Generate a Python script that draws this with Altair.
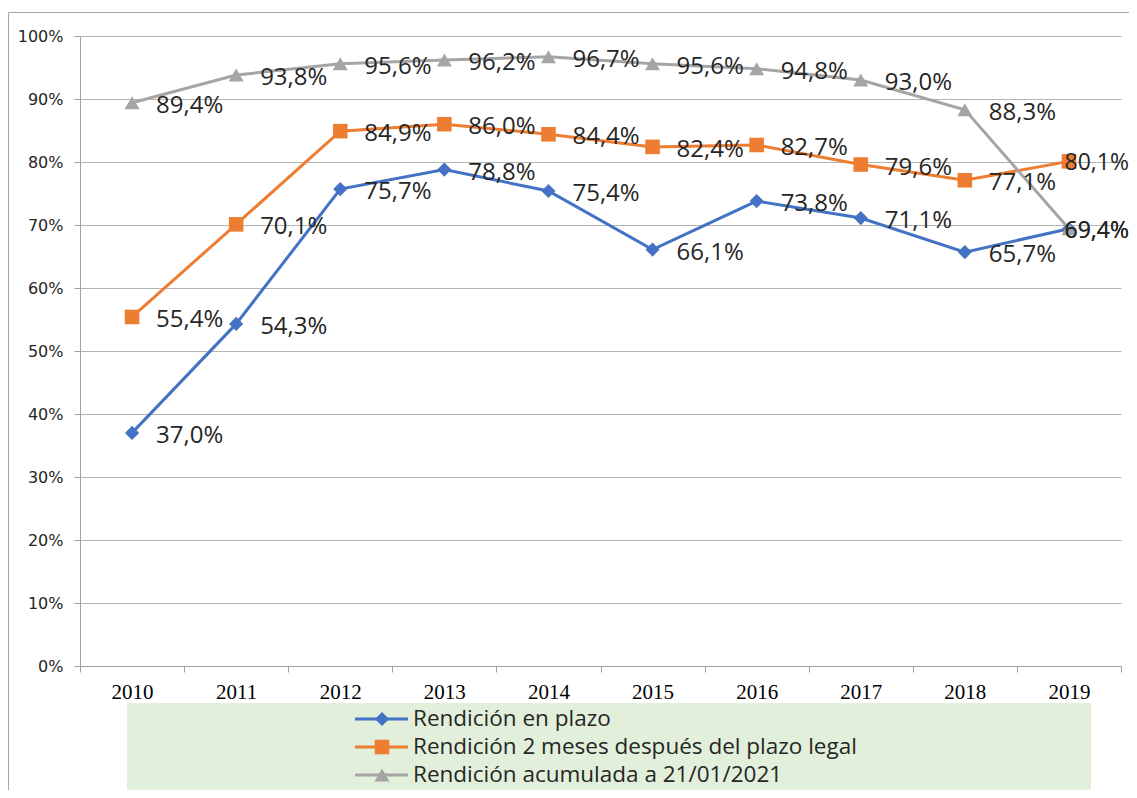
import altair as alt
import pandas as pd

years = ["2010", "2011", "2012", "2013", "2014", "2015", "2016", "2017", "2018", "2019"]
series_names = [
    "Rendición en plazo",
    "Rendición 2 meses después del plazo legal",
    "Rendición acumulada a 21/01/2021",
]
en_plazo = [37.0, 54.3, 75.7, 78.8, 75.4, 66.1, 73.8, 71.1, 65.7, 69.4]
dos_meses = [55.4, 70.1, 84.9, 86.0, 84.4, 82.4, 82.7, 79.6, 77.1, 80.1]
acumulada = [89.4, 93.8, 95.6, 96.2, 96.7, 95.6, 94.8, 93.0, 88.3, 69.4]
colors = ["#4472C4", "#ED7D31", "#A5A5A5"]
shapes = ["diamond", "square", "triangle-up"]
marker_sizes = [200, 225, 230]
y_ticks = list(range(0, 101, 10))

rows = []
for name, vals in zip(series_names, [en_plazo, dos_meses, acumulada]):
    for yr, v in zip(years, vals):
        rows.append({"Año": yr, "Serie": name, "Valor": v})
df = pd.DataFrame(rows)

W, H = 1041, 630
TXT = "#262626"
GRID = "#b4b4b4"

color = alt.Color("Serie:N", scale=alt.Scale(domain=series_names, range=colors), legend=None)
shape = alt.Shape("Serie:N", scale=alt.Scale(domain=series_names, range=shapes), legend=None)
size = alt.Size("Serie:N", scale=alt.Scale(domain=series_names, range=marker_sizes), legend=None)

x = alt.X(
    "Año:N",
    bandPosition=0.5,
    scale=alt.Scale(type="band", domain=years, paddingInner=0, paddingOuter=0),
    axis=alt.Axis(
        title=None, labelAngle=0, tickBand="extent", grid=False,
        domainColor="#a0a0a0", tickColor="#a0a0a0", tickSize=6,
        labelFont="Liberation Serif", labelFontSize=21, labelColor="#000000",
        labelPadding=9,
    ),
)
y = alt.Y(
    "Valor:Q",
    scale=alt.Scale(domain=[0, 100], nice=False, zero=True),
    axis=alt.Axis(
        title=None, values=y_ticks, labelExpr="datum.value + '%'",
        grid=True, gridColor=GRID, gridWidth=1,
        domainColor="#a0a0a0", tickColor="#a0a0a0", tickSize=6,
        labelFont="DejaVu Sans", labelFontSize=16, labelColor=TXT,
        labelPadding=11,
    ),
)

base = alt.Chart(df)
lines = base.mark_line(strokeWidth=3).encode(x=x, y=y, color=color)
points = base.mark_point(filled=True, opacity=1).encode(x=x, y=y, color=color, shape=shape, size=size)

lab_expr = "replace(format(datum.Valor, '.1f'), '.', ',') + '%'"
labels_main = base.transform_filter("datum['Año'] != '2019'").transform_calculate(
    lab=lab_expr
).mark_text(align="left", baseline="middle", dx=24, dy=3, font="Open Sans", fontSize=24, color=TXT).encode(
    x=x, y=y, text="lab:N"
)
labels_last = base.transform_filter("datum['Año'] == '2019'").transform_calculate(
    lab=lab_expr
).mark_text(align="right", baseline="middle", dx=60, dy=2, font="Open Sans", fontSize=23, color=TXT).encode(
    x=x, y=y, text="lab:N"
)

main = alt.layer(lines, points, labels_main, labels_last)

# Legend panel and chart border
one = pd.DataFrame({"k": [0]})
leg_df = pd.DataFrame({"Serie": series_names})
leg_y = alt.Y("Serie:N", scale=alt.Scale(type="point", domain=series_names, range=[683, 739], padding=0), axis=None)

box = alt.Chart(one).mark_rect(color="#e2efda").encode(
    x=alt.value(47), x2=alt.value(1011), y=alt.value(667), y2=alt.value(760)
)
border_top = alt.Chart(one).mark_rule(color="#a6a6a6", strokeWidth=1).encode(
    x=alt.value(-71.5), x2=alt.value(1060), y=alt.value(-23.5)
)
border_left = alt.Chart(one).mark_rule(color="#a6a6a6", strokeWidth=1).encode(
    x=alt.value(-71.5), y=alt.value(-23.5), y2=alt.value(762)
)
leg_rules = alt.Chart(leg_df).mark_rule(strokeWidth=3).encode(
    x=alt.value(275), x2=alt.value(328), y=leg_y, color=color
)
leg_pts = alt.Chart(leg_df).mark_point(filled=True, opacity=1).encode(
    x=alt.value(302), y=leg_y, color=color, shape=shape, size=size
)
leg_txt = alt.Chart(leg_df).mark_text(align="left", baseline="middle", font="Open Sans", fontSize=22.5, color=TXT).encode(
    x=alt.value(333), y=leg_y, text="Serie:N"
)
legend = alt.layer(box, border_top, border_left, leg_rules, leg_pts, leg_txt)

chart = alt.layer(main, legend).resolve_scale(y="independent").properties(
    width=W, height=H,
    padding={"left": 72, "top": 28, "right": 8, "bottom": 124},
    autosize=alt.AutoSizeParams(type="none"),
).configure_view(stroke=None)

chart.save("out.html", embed_options={"renderer": "svg", "actions": False})
